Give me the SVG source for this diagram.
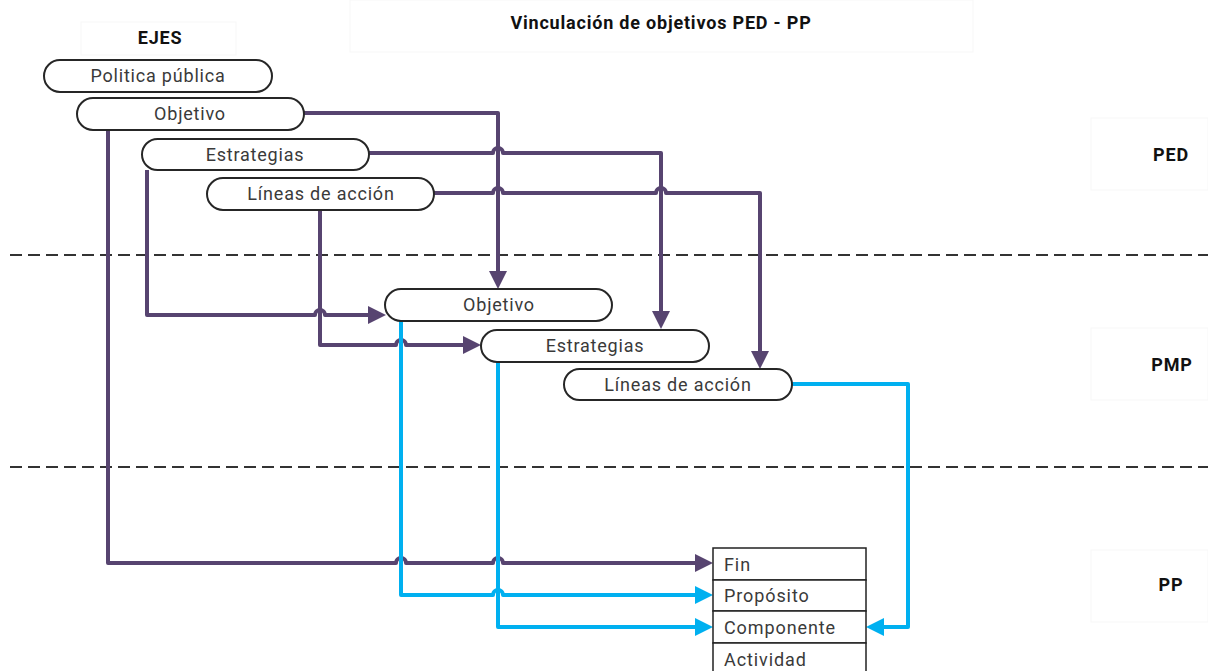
<svg xmlns="http://www.w3.org/2000/svg" width="1208" height="671" viewBox="0 0 1208 671">
<defs>
<style>
.node{fill:#fff;stroke:#262626;stroke-width:2}
.nt{font-family:Roboto,"Liberation Sans",sans-serif;font-size:18px;letter-spacing:0.8px;fill:#3a3a3a;text-anchor:middle}
.tt{font-family:Roboto,"Liberation Sans",sans-serif;font-size:18px;letter-spacing:0.9px;fill:#3a3a3a}
.hd{font-family:Roboto,"Liberation Sans",sans-serif;font-size:18px;letter-spacing:0.8px;font-weight:bold;fill:#111;text-anchor:middle}
.faint{fill:none;stroke:#f7f7f7;stroke-width:1}
.dash{stroke:#333;stroke-width:2;stroke-dasharray:12 6;fill:none}
.p{fill:none;stroke:#574470;stroke-width:4;stroke-linejoin:round}
.b{fill:none;stroke:#00b0f0;stroke-width:4;stroke-linejoin:round}
.cell{fill:#fff;stroke:#222;stroke-width:1.5}
</style>
<marker id="ap" markerUnits="userSpaceOnUse" markerWidth="18" markerHeight="18" viewBox="0 0 18 18" refX="12" refY="9" orient="auto"><path d="M0,0 L18,9 L0,18 z" fill="#574470"/></marker>
<marker id="ab" markerUnits="userSpaceOnUse" markerWidth="18" markerHeight="18" viewBox="0 0 18 18" refX="12" refY="9" orient="auto"><path d="M0,0 L18,9 L0,18 z" fill="#00b0f0"/></marker>
</defs>
<rect width="1208" height="671" fill="#fff"/>
<g id="labels">
<rect class="faint" x="81" y="22" width="155" height="33"/>
<rect class="faint" x="350" y="0" width="623" height="52"/>
<rect class="faint" x="1091" y="118" width="117" height="72"/>
<rect class="faint" x="1091" y="328" width="117" height="72"/>
<rect class="faint" x="1091" y="550" width="117" height="72"/>
<text class="hd" x="661" y="29">Vinculación de objetivos PED - PP</text>
<text class="hd" x="160" y="44">EJES</text>
<text class="hd" x="1171" y="161">PED</text>
<text class="hd" x="1172" y="371">PMP</text>
<text class="hd" x="1171" y="591">PP</text>
</g>
<g id="separators">
<line class="dash" x1="10" y1="255" x2="1208" y2="255"/>
<line class="dash" x1="10" y1="467" x2="1208" y2="467"/>
</g>
<g id="connectors">
<path class="p" d="M304,113 H498 V283" marker-end="url(#ap)"/>
<path class="p" d="M369,153 H493 A5,5 0 0 1 503,153 H661 V323" marker-end="url(#ap)"/>
<path class="p" d="M434,193 H493 A5,5 0 0 1 503,193 H656 A5,5 0 0 1 666,193 H760 V363" marker-end="url(#ap)"/>
<path class="p" d="M108,130 V563 H396 A5,5 0 0 1 406,563 H493 A5,5 0 0 1 503,563 H707" marker-end="url(#ap)"/>
<path class="p" d="M147,170 V315 H315 A5,5 0 0 1 325,315 H380" marker-end="url(#ap)"/>
<path class="p" d="M320,210 V345 H396 A5,5 0 0 1 406,345 H475" marker-end="url(#ap)"/>
<path class="b" d="M401,321 V595 H493 A5,5 0 0 1 503,595 H707" marker-end="url(#ab)"/>
<path class="b" d="M498,362 V627 H707" marker-end="url(#ab)"/>
<path class="b" d="M792,384 H908 V627 H872" marker-end="url(#ab)"/>
</g>
<g id="n-politica"><rect class="node" x="44" y="60" width="228" height="32" rx="16"/><text class="nt" x="158" y="82">Politica pública</text></g>
<g id="n-objetivo1"><rect class="node" x="77" y="98" width="227" height="32" rx="16"/><text class="nt" x="190" y="120">Objetivo</text></g>
<g id="n-estrategias1"><rect class="node" x="142" y="139" width="227" height="31" rx="15.5"/><text class="nt" x="255" y="161">Estrategias</text></g>
<g id="n-lineas1"><rect class="node" x="207" y="178" width="227" height="32" rx="16"/><text class="nt" x="321" y="200">Líneas de acción</text></g>
<g id="n-objetivo2"><rect class="node" x="385" y="289" width="227" height="32" rx="16"/><text class="nt" x="499" y="311">Objetivo</text></g>
<g id="n-estrategias2"><rect class="node" x="481" y="330" width="228" height="32" rx="16"/><text class="nt" x="595" y="352">Estrategias</text></g>
<g id="n-lineas2"><rect class="node" x="564" y="369" width="228" height="31" rx="15.5"/><text class="nt" x="678" y="391">Líneas de acción</text></g>
<g id="n-mir">
<rect class="cell" x="713" y="548" width="153" height="32"/>
<rect class="cell" x="713" y="580" width="153" height="31"/>
<rect class="cell" x="713" y="611" width="153" height="32"/>
<rect class="cell" x="713" y="643" width="153" height="32"/>
<text class="tt" x="724" y="571">Fin</text>
<text class="tt" x="724" y="602">Propósito</text>
<text class="tt" x="724" y="634">Componente</text>
<text class="tt" x="724" y="666">Actividad</text>
</g>
</svg>
